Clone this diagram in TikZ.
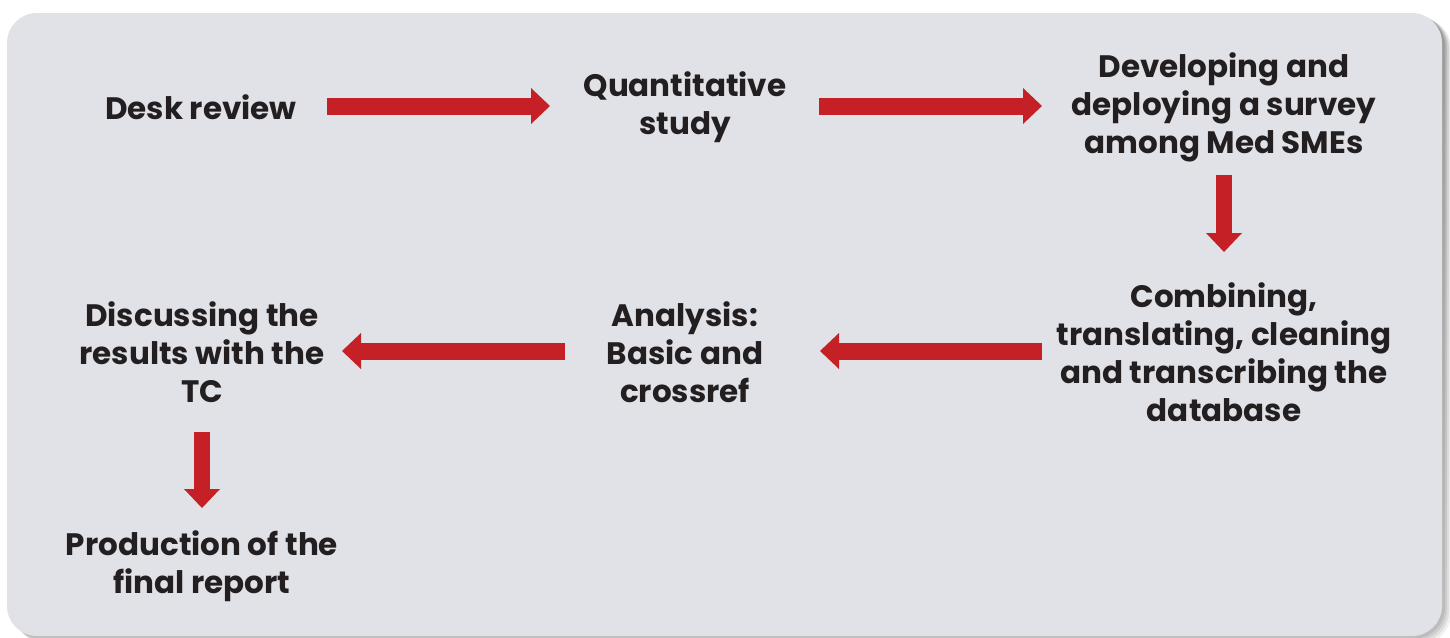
\documentclass[tikz,border=0pt]{standalone}
\usepackage{fontspec}
\setmainfont{Poppins}
\usetikzlibrary{arrows.meta}
\definecolor{bgbox}{HTML}{E1E2E7}
\definecolor{arrred}{HTML}{C52026}
\definecolor{txt}{HTML}{231F20}
\definecolor{shade}{HTML}{9A9A9A}
\tikzset{
  lbl/.style={align=center, text=txt, inner sep=0pt,
    font=\bfseries\fontsize{31}{38}\selectfont},
  bigarrow/.style={draw=arrred, line width=17pt, line cap=butt,
    -{Triangle[width=36pt,length=19pt,line width=0pt,fill=arrred]}}
}
\begin{document}
\begin{tikzpicture}[x=1pt,y=-1pt]
\useasboundingbox (0,0) rectangle (1450,637);
% shadow
\foreach \o/\a in {9/0.06,7/0.08,5/0.10,3/0.12}{
  \fill[shade, opacity=\a, rounded corners=32pt] (7+\o,13+\o*0.5) rectangle (1442+\o,636+\o);
}
\fill[bgbox, rounded corners=30pt] (7,13) rectangle (1442,636);
% nodes
\node[lbl] (desk) at (201,107.5) {Desk review};
\node[lbl] (quant) at (685,107.5) {Quantitative\\study};
\node[lbl] (dev) at (1224,107.5) {Developing and\\deploying a survey\\among Med SMEs};
\node[lbl] (comb) at (1224,352.5) {Combining,\\translating, cleaning\\and transcribing the\\database};
\node[lbl] (anal) at (685,352.5) {Analysis:\\Basic and\\crossref};
\node[lbl] (disc) at (202,352.5) {Discussing the\\results with the\\TC};
\node[lbl] (prod) at (202,566.5) {Production of the\\final report};
% connectors
\draw[bigarrow, shorten <=126pt, shorten >=135pt, transform canvas={yshift=1.5pt}] (desk.center) -- (quant.center);
\draw[bigarrow, shorten <=134pt, shorten >=182pt, transform canvas={yshift=1.5pt}] (quant.center) -- (dev.center);
\draw[bigarrow, shorten <=67.5pt, shorten >=100.5pt, line width=16pt] (dev.center) -- (comb.center);
\draw[bigarrow, shorten <=182pt, shorten >=135pt, transform canvas={yshift=1.5pt}] (comb.center) -- (anal.center);
\draw[bigarrow, shorten <=120pt, shorten >=140pt, transform canvas={yshift=1.5pt}] (anal.center) -- (disc.center);
\draw[bigarrow, shorten <=79.5pt, shorten >=58.5pt, line width=16pt] (disc.center) -- (prod.center);
\end{tikzpicture}
\end{document}
